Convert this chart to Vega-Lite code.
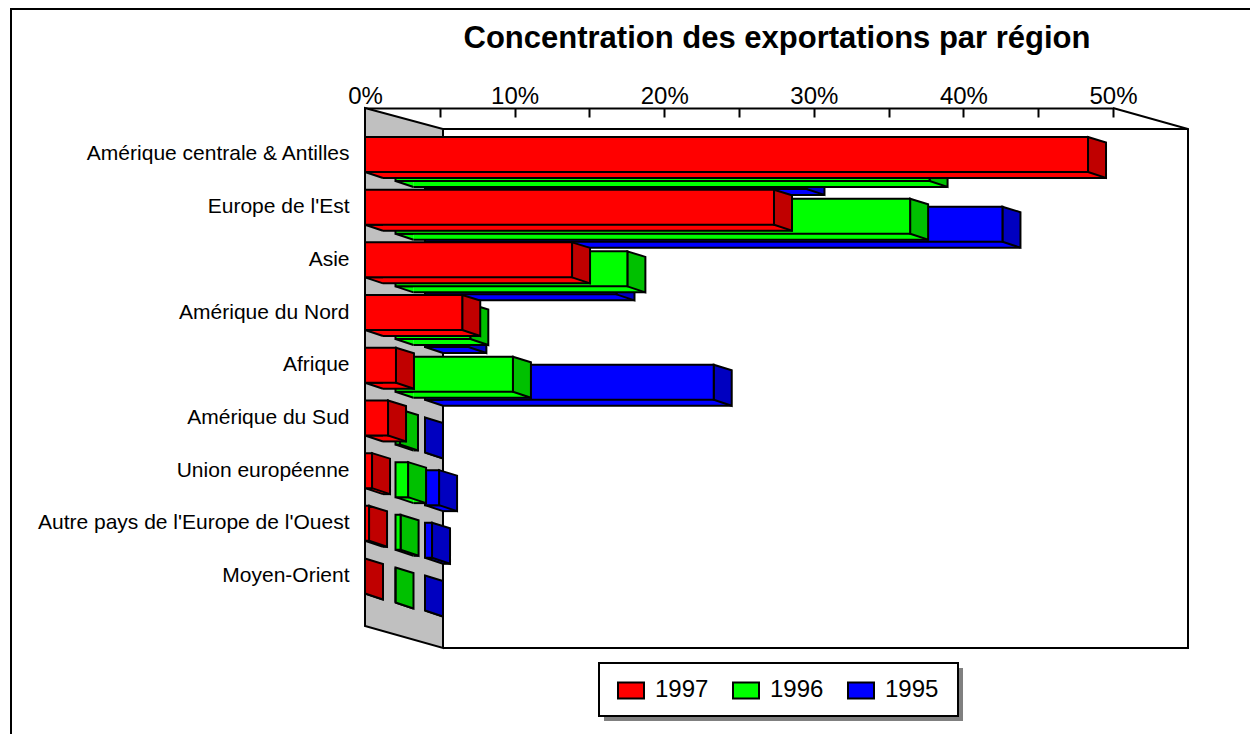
{"$schema":"https://vega.github.io/schema/vega-lite/v6.json","width":748,"height":518,"autosize":"none","padding":{"left":365,"top":108,"right":139,"bottom":108},"background":"white","config":{"view":{"stroke":null},"font":"Liberation Sans"},
"title":{"text":"Concentration des exportations par région","font":"Liberation Sans","fontSize":31,"fontWeight":"bold","color":"black","anchor":"middle","dx":38,"offset":-50},
"datasets":{"rows":[
{"region":"Amérique centrale & Antilles","series":"1997","value":48.33},{"region":"Europe de l'Est","series":"1997","value":27.34},{"region":"Asie","series":"1997","value":13.84},{"region":"Amérique du Nord","series":"1997","value":6.5},{"region":"Afrique","series":"1997","value":2.07},{"region":"Amérique du Sud","series":"1997","value":1.54},{"region":"Union européenne","series":"1997","value":0.47},{"region":"Autre pays de l'Europe de l'Ouest","series":"1997","value":0.27},{"region":"Moyen-Orient","series":"1997","value":0},
{"region":"Amérique centrale & Antilles","series":"1996","value":35.7},{"region":"Europe de l'Est","series":"1996","value":34.4},{"region":"Asie","series":"1996","value":15.5},{"region":"Amérique du Nord","series":"1996","value":5.0},{"region":"Afrique","series":"1996","value":7.85},{"region":"Amérique du Sud","series":"1996","value":0.3},{"region":"Union européenne","series":"1996","value":0.84},{"region":"Autre pays de l'Europe de l'Ouest","series":"1996","value":0.34},{"region":"Moyen-Orient","series":"1996","value":0},
{"region":"Amérique centrale & Antilles","series":"1995","value":25.5},{"region":"Europe de l'Est","series":"1995","value":38.6},{"region":"Asie","series":"1995","value":12.8},{"region":"Amérique du Nord","series":"1995","value":2.9},{"region":"Afrique","series":"1995","value":19.3},{"region":"Amérique du Sud","series":"1995","value":0},{"region":"Union européenne","series":"1995","value":0.94},{"region":"Autre pays de l'Europe de l'Ouest","series":"1995","value":0.47},{"region":"Moyen-Orient","series":"1995","value":0}
],"anchor":[{"region":"Amérique centrale & Antilles","value":0}]},
"encoding":{
"y":{"field":"region","type":"nominal","title":null,"scale":{"domain":["Amérique centrale & Antilles","Europe de l'Est","Asie","Amérique du Nord","Afrique","Amérique du Sud","Union européenne","Autre pays de l'Europe de l'Ouest","Moyen-Orient"],"paddingInner":0,"paddingOuter":0.4155,"align":0.46},"axis":{"domain":false,"ticks":false,"labelPadding":16,"labelFontSize":21,"labelColor":"black","labelFont":"Liberation Sans","labelLimit":400}},
"x":{"field":"value","type":"quantitative","title":null,"scale":{"domain":[0,50],"nice":false},"axis":{"orient":"top","values":[0,5,10,15,20,25,30,35,40,45,50],"labelExpr":"datum.value % 10 === 0 ? datum.value + '%' : ''","tickSize":-9,"tickWidth":2,"tickColor":"black","domainColor":"black","domainWidth":2,"labelPadding":9,"labelFontSize":24,"labelColor":"black","labelFont":"Liberation Sans","labelFlush":false,"labelOverlap":false,"grid":false}}
},
"layer":[
{"data":{"name":"anchor"},"mark":{"type":"point","filled":false,"size":4,"opacity":1,"strokeWidth":2,"stroke":"black","fill":null,"shape":"M-354,579.5L-354,-145.5L885,-145.5"}},
{"data":{"name":"anchor"},"mark":{"type":"point","filled":true,"size":4,"opacity":1,"fill":"#808080","stroke":null,"shape":"M239,513.5L598,513.5L598,566.5L239,566.5Z"}},
{"data":{"name":"anchor"},"mark":{"type":"point","filled":true,"size":4,"opacity":1,"fill":"white","stroke":"black","strokeWidth":2,"shape":"M234,508.5L593,508.5L593,561.5L234,561.5Z"}},
{"data":{"name":"anchor"},"mark":{"type":"point","filled":false,"size":4,"opacity":1,"strokeWidth":2,"stroke":"black","fill":null,"shape":"M748,-46.5L823,-25.5L823,493.5L78,493.5M78,-25.5L823,-25.5"}},
{"data":{"name":"anchor"},"mark":{"type":"point","filled":true,"size":4,"opacity":1,"strokeWidth":2,"stroke":"black","fill":"#C0C0C0","shape":"M0,-46.5L78,-25.5L78,493.5L0,471.5Z"}},

{"data":{"name":"rows"},"transform":[{"filter":"datum.series === '1995'"}],"layer":[
{"mark":{"type":"point","filled":true,"size":4,"opacity":1,"xOffset":60,"yOffset":17,"fill":"#0000FF","stroke":"black","strokeWidth":2,"shape":"M18,17.5L0,17.5L18,23.5"},"encoding":{"x":{"datum":0,"type":"quantitative"}}},
{"mark":{"type":"bar","size":6,"xOffset":78,"x2Offset":78,"yOffset":37.5,"fill":"#0000FF","stroke":null},"encoding":{"x2":{"datum":0}}},
{"mark":{"type":"rule","xOffset":78,"x2Offset":78,"yOffset":40.5,"stroke":"black","strokeWidth":2},"encoding":{"x2":{"datum":0}}},
{"mark":{"type":"point","filled":true,"size":4,"opacity":1,"xOffset":60,"yOffset":17,"fill":"#0000C0","stroke":"black","strokeWidth":2,"shape":"M0,-17.5L18,-12L18,23.5L0,17.5Z"}},
{"mark":{"type":"bar","size":35,"xOffset":60,"x2Offset":60,"yOffset":17,"stroke":"black","strokeWidth":2},"encoding":{"x2":{"datum":0},"fill":{"field":"series","type":"nominal","scale":{"domain":["1997","1996","1995"],"range":["#FF0000","#00FF00","#0000FF"]},"legend":{"title":null,"orient":"none","legendX":235,"legendY":551,"direction":"horizontal","columns":3,"padding":17,"symbolType":"M-1,-0.62H1V0.62H-1Z","symbolSize":676,"symbolStrokeColor":"black","symbolStrokeWidth":2,"labelFontSize":24,"labelFont":"Liberation Sans","labelColor":"black","labelOffset":10,"columnPadding":20}}}}
]},
{"data":{"name":"rows"},"transform":[{"filter":"datum.series === '1996'"}],"layer":[
{"mark":{"type":"point","filled":true,"size":4,"opacity":1,"xOffset":30.5,"yOffset":9,"fill":"#00FF00","stroke":"black","strokeWidth":2,"shape":"M18,17.5L0,17.5L18,23.5"},"encoding":{"x":{"datum":0,"type":"quantitative"}}},
{"mark":{"type":"bar","size":6,"xOffset":48.5,"x2Offset":48.5,"yOffset":29.5,"fill":"#00FF00","stroke":null},"encoding":{"x2":{"datum":0}}},
{"mark":{"type":"rule","xOffset":48.5,"x2Offset":48.5,"yOffset":32.5,"stroke":"black","strokeWidth":2},"encoding":{"x2":{"datum":0}}},
{"mark":{"type":"point","filled":true,"size":4,"opacity":1,"xOffset":30.5,"yOffset":9,"fill":"#00C000","stroke":"black","strokeWidth":2,"shape":"M0,-17.5L18,-12L18,23.5L0,17.5Z"}},
{"mark":{"type":"bar","size":35,"xOffset":30.5,"x2Offset":30.5,"yOffset":9,"stroke":"black","strokeWidth":2},"encoding":{"x2":{"datum":0},"fill":{"field":"series","type":"nominal"}}}
]},
{"data":{"name":"rows"},"transform":[{"filter":"datum.series === '1997'"}],"layer":[
{"mark":{"type":"point","filled":true,"size":4,"opacity":1,"fill":"#FF0000","stroke":"black","strokeWidth":2,"shape":"M18,17.5L0,17.5L18,23.5"},"encoding":{"x":{"datum":0,"type":"quantitative"}}},
{"mark":{"type":"bar","size":6,"xOffset":18,"x2Offset":18,"yOffset":20.5,"fill":"#FF0000","stroke":null},"encoding":{"x2":{"datum":0}}},
{"mark":{"type":"rule","xOffset":18,"x2Offset":18,"yOffset":23.5,"stroke":"black","strokeWidth":2},"encoding":{"x2":{"datum":0}}},
{"mark":{"type":"point","filled":true,"size":4,"opacity":1,"fill":"#C00000","stroke":"black","strokeWidth":2,"shape":"M0,-17.5L18,-12L18,23.5L0,17.5Z"}},
{"mark":{"type":"bar","size":35,"stroke":"black","strokeWidth":2},"encoding":{"x2":{"datum":0},"fill":{"field":"series","type":"nominal"}}}
]}
]}
